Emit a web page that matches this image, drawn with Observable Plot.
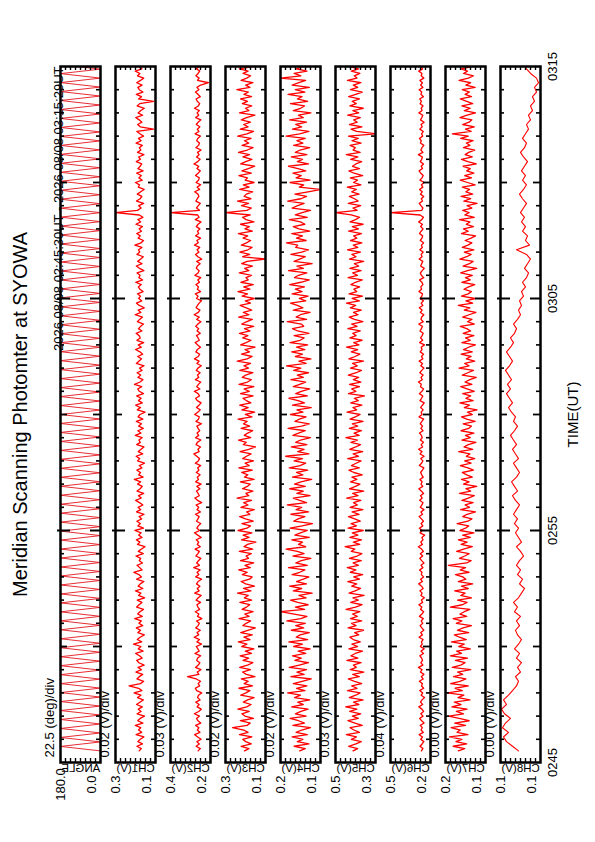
<!DOCTYPE html>
<html>
<head>
<meta charset="utf-8">
<script src="https://cdn.jsdelivr.net/npm/d3@7"></script>
<script src="https://cdn.jsdelivr.net/npm/@observablehq/plot@0.6"></script>
<style>
  html, body { margin: 0; padding: 0; background: #ffffff; }
  #page { position: relative; width: 595px; height: 842px; overflow: hidden; background: #ffffff; }
</style>
</head>
<body>
<div id="page"></div>
<script>
// ---------------- data ----------------
const titleText = "Meridian Scanning Photomter at SYOWA";
const subtitleText = "2026 08/08 02:45:30UT - 2026 08/08 03:15:29UT";
const axisTitle = "TIME(UT)";
const day = "2026-08-08T";
const sampleStart = "02:45:30";
// seconds between consecutive values of each series (ANGLE, CH1..CH8)
const stepSec = [11.6, 6, 6, 6, 6, 6, 6, 6, 12];

const channelNames = ["ANGLE", "CH1(V)", "CH2(V)", "CH3(V)", "CH4(V)", "CH5(V)", "CH6(V)", "CH7(V)", "CH8(V)"];
const domainMin = [0, 0.1, 0.2, 0.1, 0.1, 0.3, 0.2, 0.1, 0.08];
const domainMax = [180, 0.3, 0.4, 0.3, 0.2, 0.5, 0.5, 0.2, 0.12];
const highLabels = ["180.0", "0.3", "0.4", "0.3", "0.2", "0.5", "0.5", "0.2", "0.1"];
const lowLabels = ["0.0", "0.1", "0.2", "0.1", "0.1", "0.3", "0.2", "0.1", "0.1"];
const divLabels = ["22.5 (deg)/div", "0.02 (V)/div", "0.03 (V)/div", "0.02 (V)/div", "0.02 (V)/div",
                   "0.03 (V)/div", "0.04 (V)/div", "0.00 (V)/div", "0.00 (V)/div"];
const timeTickLabels = ["0245", "0255", "0305", "0315"];
const timeTickTimes = ["02:45", "02:55", "03:05", "03:15"];

// scan angle turning points (deg)
const angleDeg = [
  0,180,0,180,0,180,0,180,0,180,0,180,0,180,0,180,0,180,0,180,
  0,180,0,180,0,180,0,180,0,180,0,180,0,180,0,180,0,180,0,180,
  0,180,0,180,0,180,0,180,0,180,0,180,0,180,0,180,0,180,0,180,
  0,180,0,180,0,180,0,180,0,180,0,180,0,180,0,180,0,180,0,180,
  0,180,0,180,0,180,0,180,0,180,0,180,0,180,0,180,0,180,0,180,
  0,180,0,180,0,180,0,180,0,180,0,180,0,180,0,180,0,180,0,180,
  0,180,0,180,0,180,0,180,0,180,0,180,0,180,0,180,0,180,0,180,
  0,180,0,180,0,180,0,180,0,180,0,180,0,180,0
];

const ch1 = [
  0.182,0.171,0.193,0.165,0.188,0.176,0.158,0.197,0.169,0.185,0.174,0.201,0.163,0.189,0.177,0.155,0.192,0.172,0.186,0.166,
  0.195,0.178,0.161,0.190,0.173,0.207,0.168,0.184,0.232,0.175,0.159,0.193,0.181,0.164,0.198,0.170,0.187,0.157,0.183,0.194,
  0.167,0.180,0.199,0.162,0.186,0.173,0.210,0.169,0.191,0.177,0.156,0.188,0.175,0.196,0.164,0.183,0.171,0.204,0.166,0.189,
  0.178,0.160,0.194,0.182,0.168,0.191,0.154,0.185,0.173,0.200,0.163,0.187,0.176,0.158,0.195,0.170,0.183,0.209,0.167,0.179,
  0.192,0.165,0.181,0.174,0.198,0.161,0.186,0.170,0.153,0.190,0.178,0.196,0.167,0.184,0.172,0.203,0.160,0.188,0.176,0.193,
  0.169,0.182,0.157,0.195,0.174,0.187,0.163,0.180,0.199,0.171,0.185,0.159,0.192,0.177,0.166,0.189,0.174,0.206,0.162,0.184,
  0.175,0.193,0.168,0.181,0.155,0.190,0.179,0.197,0.164,0.186,0.172,0.158,0.194,0.176,0.183,0.167,0.201,0.173,0.188,0.161,
  0.184,0.170,0.196,0.163,0.187,0.178,0.152,0.191,0.175,0.199,0.166,0.185,0.172,0.194,0.160,0.181,0.189,0.169,0.205,0.177,
  0.163,0.188,0.174,0.192,0.167,0.180,0.157,0.196,0.183,0.170,0.189,0.164,0.178,0.200,0.171,0.186,0.159,0.193,0.176,0.182,
  0.197,0.168,0.185,0.174,0.160,0.191,0.179,0.165,0.202,0.173,0.187,0.156,0.181,0.195,0.169,0.184,0.175,0.190,0.162,0.178,
  0.186,0.171,0.199,0.164,0.183,0.177,0.192,0.158,0.180,0.196,0.167,0.189,0.174,0.161,0.193,0.179,0.185,0.168,0.203,0.172,
  0.160,0.187,0.176,0.194,0.170,0.182,0.165,0.198,0.174,0.188,0.163,0.181,0.300,0.190,0.172,0.184,0.159,0.195,0.177,0.168,
  0.191,0.174,0.157,0.186,0.180,0.200,0.166,0.183,0.171,0.194,0.162,0.188,0.177,0.169,0.196,0.175,0.184,0.158,0.190,0.173,
  0.181,0.166,0.197,0.172,0.185,0.160,0.178,0.193,0.110,0.176,0.189,0.168,0.182,0.199,0.164,0.187,0.173,0.156,0.192,0.179,
  0.110,0.185,0.170,0.196,0.163,0.181,0.188,0.167,0.194,0.175,0.159,0.190,0.178,0.201,0.168,0.184,0.172,0.193,0.176,0.186
];

const ch2 = [
  0.262,0.251,0.272,0.256,0.268,0.247,0.264,0.279,0.253,0.266,0.258,0.274,0.249,0.263,0.270,0.255,0.281,0.259,0.246,0.267,
  0.257,0.273,0.252,0.265,0.260,0.244,0.269,0.276,0.254,0.262,0.250,0.271,0.315,0.258,0.266,0.248,0.275,0.261,0.253,0.269,
  0.264,0.249,0.278,0.257,0.263,0.271,0.245,0.268,0.255,0.282,0.259,0.267,0.251,0.274,0.262,0.256,0.270,0.243,0.265,0.258,
  0.276,0.254,0.263,0.268,0.250,0.272,0.261,0.247,0.279,0.257,0.266,0.253,0.270,0.262,0.245,0.274,0.258,0.267,0.252,0.284,
  0.255,0.269,0.260,0.248,0.273,0.263,0.256,0.277,0.251,0.266,0.259,0.271,0.246,0.264,0.280,0.254,0.268,0.261,0.249,0.270,
  0.263,0.257,0.275,0.250,0.267,0.259,0.272,0.244,0.265,0.278,0.256,0.262,0.270,0.253,0.268,0.247,0.274,0.260,0.266,0.252,
  0.271,0.258,0.264,0.249,0.276,0.261,0.255,0.269,0.283,0.257,0.263,0.250,0.272,0.266,0.248,0.275,0.259,0.267,0.254,0.262,
  0.268,0.245,0.273,0.260,0.256,0.279,0.264,0.251,0.270,0.258,0.247,0.266,0.274,0.255,0.262,0.281,0.253,0.269,0.260,0.249,
  0.276,0.259,0.265,0.252,0.271,0.263,0.246,0.268,0.257,0.280,0.261,0.254,0.273,0.266,0.250,0.264,0.277,0.256,0.262,0.270,
  0.251,0.267,0.259,0.274,0.263,0.248,0.269,0.256,0.282,0.261,0.253,0.272,0.265,0.257,0.245,0.270,0.262,0.276,0.250,0.266,
  0.260,0.273,0.255,0.264,0.249,0.278,0.262,0.257,0.271,0.266,0.252,0.269,0.244,0.263,0.275,0.258,0.267,0.254,0.280,0.261,
  0.268,0.250,0.274,0.259,0.265,0.253,0.271,0.262,0.248,0.276,0.257,0.264,0.400,0.255,0.270,0.261,0.251,0.273,0.266,0.258,
  0.263,0.279,0.254,0.267,0.249,0.272,0.260,0.256,0.275,0.262,0.251,0.268,0.259,0.283,0.264,0.252,0.270,0.257,0.265,0.247,
  0.273,0.260,0.255,0.269,0.264,0.250,0.277,0.258,0.266,0.253,0.271,0.262,0.248,0.274,0.259,0.267,0.256,0.280,0.261,0.254,
  0.266,0.272,0.251,0.263,0.275,0.258,0.268,0.249,0.210,0.265,0.257,0.273,0.262,0.254,0.270,0.259,0.276,0.252,0.267,0.261
];

const ch3 = [
  0.205,0.183,0.222,0.171,0.199,0.214,0.168,0.230,0.187,0.209,0.265,0.192,0.176,0.226,0.160,0.203,0.218,0.181,0.238,0.194,
  0.172,0.211,0.189,0.157,0.224,0.198,0.178,0.233,0.165,0.207,0.186,0.221,0.153,0.196,0.215,0.175,0.229,0.190,0.163,0.212,
  0.184,0.227,0.170,0.201,0.158,0.219,0.193,0.236,0.177,0.208,0.166,0.224,0.188,0.151,0.213,0.197,0.174,0.232,0.182,0.204,
  0.162,0.217,0.195,0.179,0.228,0.169,0.206,0.186,0.240,0.173,0.210,0.155,0.199,0.222,0.180,0.167,0.216,0.191,0.234,0.176,
  0.203,0.159,0.225,0.185,0.197,0.171,0.231,0.164,0.208,0.190,0.148,0.220,0.182,0.212,0.168,0.237,0.193,0.175,0.218,0.161,
  0.200,0.229,0.178,0.194,0.156,0.223,0.187,0.209,0.170,0.242,0.183,0.198,0.163,0.215,0.191,0.176,0.226,0.157,0.205,0.188,
  0.219,0.166,0.233,0.181,0.202,0.160,0.214,0.195,0.172,0.227,0.184,0.150,0.211,0.196,0.235,0.174,0.206,0.189,0.164,0.222,
  0.179,0.210,0.192,0.237,0.168,0.201,0.154,0.218,0.186,0.229,0.173,0.196,0.213,0.162,0.225,0.181,0.207,0.158,0.232,0.190,
  0.171,0.216,0.199,0.163,0.228,0.185,0.208,0.175,0.241,0.192,0.167,0.220,0.180,0.203,0.152,0.224,0.197,0.172,0.214,0.188,
  0.230,0.177,0.205,0.159,0.219,0.193,0.166,0.234,0.182,0.211,0.169,0.196,0.227,0.175,0.201,0.156,0.217,0.190,0.238,0.178,
  0.209,0.161,0.223,0.186,0.198,0.170,0.231,0.183,0.204,0.165,0.219,0.192,0.100,0.214,0.179,0.228,0.188,0.167,0.221,0.195,
  0.174,0.212,0.189,0.236,0.166,0.203,0.181,0.225,0.158,0.197,0.215,0.176,0.300,0.193,0.170,0.220,0.185,0.240,0.173,0.207,
  0.196,0.164,0.229,0.182,0.211,0.157,0.202,0.190,0.233,0.171,0.218,0.186,0.154,0.224,0.199,0.168,0.213,0.180,0.235,0.191,
  0.162,0.217,0.184,0.205,0.172,0.239,0.193,0.160,0.226,0.187,0.209,0.175,0.221,0.195,0.153,0.230,0.183,0.200,0.169,0.216,
  0.190,0.225,0.170,0.208,0.185,0.243,0.178,0.199,0.163,0.222,0.194,0.174,0.212,0.187,0.231,0.167,0.204,0.181,0.219,0.196
];

const ch4 = [
  0.152,0.138,0.166,0.129,0.158,0.144,0.171,0.133,0.161,0.147,0.125,0.169,0.140,0.155,0.176,0.136,0.163,0.149,0.131,0.172,
  0.143,0.157,0.127,0.165,0.150,0.182,0.139,0.160,0.134,0.168,0.146,0.123,0.174,0.141,0.159,0.135,0.178,0.153,0.130,0.164,
  0.148,0.170,0.137,0.156,0.126,0.167,0.145,0.179,0.132,0.161,0.151,0.128,0.173,0.142,0.162,0.138,0.184,0.149,0.134,0.166,
  0.200,0.140,0.163,0.131,0.157,0.175,0.136,0.154,0.121,0.168,0.147,0.177,0.135,0.160,0.143,0.129,0.171,0.152,0.139,0.180,
  0.133,0.162,0.148,0.124,0.169,0.141,0.158,0.186,0.137,0.155,0.145,0.172,0.128,0.164,0.150,0.133,0.176,0.146,0.120,0.167,
  0.156,0.139,0.174,0.130,0.161,0.147,0.183,0.135,0.152,0.168,0.126,0.159,0.143,0.177,0.138,0.165,0.149,0.122,0.170,0.144,
  0.160,0.132,0.178,0.151,0.137,0.166,0.145,0.187,0.129,0.157,0.141,0.173,0.134,0.162,0.150,0.125,0.169,0.155,0.138,0.181,
  0.147,0.128,0.164,0.153,0.136,0.175,0.144,0.159,0.123,0.170,0.140,0.156,0.179,0.133,0.162,0.148,0.127,0.168,0.152,0.137,
  0.174,0.143,0.158,0.130,0.167,0.149,0.185,0.136,0.154,0.124,0.163,0.145,0.172,0.139,0.160,0.132,0.176,0.151,0.141,0.166,
  0.129,0.157,0.170,0.142,0.148,0.183,0.135,0.161,0.150,0.126,0.168,0.144,0.158,0.175,0.137,0.153,0.131,0.171,0.146,0.163,
  0.140,0.177,0.149,0.128,0.165,0.155,0.134,0.180,0.143,0.159,0.121,0.166,0.152,0.138,0.174,0.147,0.130,0.162,0.157,0.185,
  0.136,0.160,0.145,0.172,0.127,0.154,0.168,0.139,0.150,0.178,0.133,0.163,0.146,0.125,0.171,0.157,0.141,0.182,0.149,0.135,
  0.164,0.131,0.100,0.153,0.142,0.176,0.126,0.161,0.148,0.169,0.137,0.156,0.180,0.130,0.158,0.145,0.173,0.134,0.163,0.151,
  0.127,0.167,0.144,0.159,0.138,0.186,0.152,0.129,0.170,0.147,0.162,0.135,0.177,0.143,0.155,0.124,0.168,0.150,0.140,0.175,
  0.132,0.158,0.146,0.181,0.139,0.163,0.128,0.171,0.154,0.137,0.200,0.149,0.166,0.134,0.160,0.145,0.178,0.141,0.157,0.150
];

const ch5 = [
  0.412,0.389,0.434,0.398,0.371,0.421,0.395,0.446,0.380,0.408,0.427,0.366,0.403,0.438,0.386,0.416,0.374,0.429,0.393,0.449,
  0.383,0.410,0.362,0.431,0.399,0.377,0.440,0.392,0.419,0.369,0.405,0.436,0.381,0.414,0.358,0.426,0.396,0.411,0.372,0.443,
  0.388,0.423,0.401,0.365,0.433,0.390,0.418,0.376,0.411,0.428,0.384,0.404,0.360,0.437,0.397,0.420,0.369,0.425,0.391,0.415,
  0.378,0.447,0.400,0.367,0.424,0.386,0.413,0.357,0.432,0.402,0.375,0.419,0.394,0.439,0.380,0.409,0.364,0.426,0.398,0.441,
  0.385,0.412,0.371,0.430,0.392,0.368,0.421,0.403,0.452,0.379,0.411,0.370,0.428,0.388,0.416,0.361,0.437,0.395,0.422,0.376,
  0.404,0.435,0.382,0.417,0.363,0.427,0.390,0.410,0.373,0.444,0.387,0.414,0.359,0.430,0.400,0.378,0.425,0.393,0.418,0.366,
  0.408,0.433,0.381,0.420,0.397,0.372,0.439,0.385,0.412,0.364,0.429,0.399,0.375,0.423,0.390,0.448,0.382,0.407,0.370,0.431,
  0.389,0.416,0.362,0.427,0.401,0.377,0.442,0.394,0.413,0.368,0.424,0.386,0.406,0.355,0.435,0.398,0.419,0.380,0.430,0.373,
  0.411,0.384,0.436,0.396,0.370,0.425,0.391,0.415,0.360,0.433,0.402,0.378,0.421,0.389,0.445,0.383,0.409,0.367,0.428,0.397,
  0.414,0.376,0.438,0.392,0.420,0.363,0.405,0.431,0.387,0.410,0.371,0.426,0.399,0.445,0.381,0.417,0.365,0.432,0.394,0.408,
  0.379,0.423,0.401,0.366,0.437,0.390,0.414,0.372,0.428,0.384,0.406,0.359,0.430,0.397,0.418,0.375,0.440,0.388,0.411,0.368,
  0.425,0.393,0.409,0.370,0.434,0.385,0.416,0.362,0.427,0.400,0.379,0.421,0.500,0.392,0.413,0.374,0.436,0.387,0.405,0.431,
  0.382,0.419,0.396,0.441,0.373,0.410,0.390,0.426,0.364,0.407,0.433,0.380,0.415,0.398,0.369,0.424,0.388,0.446,0.377,0.412,
  0.401,0.427,0.372,0.418,0.386,0.435,0.300,0.395,0.422,0.368,0.430,0.391,0.409,0.376,0.439,0.384,0.413,0.361,0.428,0.396,
  0.417,0.380,0.434,0.399,0.366,0.425,0.389,0.411,0.373,0.440,0.393,0.406,0.378,0.421,0.385,0.430,0.370,0.415,0.401,0.423
];

const ch6 = [
  0.268,0.257,0.279,0.263,0.250,0.274,0.260,0.285,0.254,0.271,0.262,0.277,0.248,0.266,0.282,0.256,0.273,0.252,0.265,0.288,
  0.259,0.275,0.264,0.245,0.270,0.258,0.281,0.251,0.267,0.261,0.284,0.255,0.269,0.249,0.276,0.263,0.290,0.257,0.272,0.260,
  0.266,0.280,0.253,0.271,0.247,0.276,0.262,0.268,0.256,0.286,0.261,0.273,0.250,0.265,0.278,0.258,0.270,0.254,0.283,0.264,
  0.251,0.274,0.265,0.287,0.259,0.268,0.246,0.272,0.263,0.279,0.255,0.267,0.289,0.260,0.274,0.252,0.269,0.264,0.282,0.257,
  0.271,0.249,0.266,0.280,0.259,0.276,0.254,0.267,0.291,0.261,0.273,0.256,0.265,0.244,0.278,0.262,0.283,0.258,0.270,0.253,
  0.268,0.285,0.260,0.272,0.249,0.277,0.265,0.256,0.281,0.262,0.275,0.252,0.269,0.287,0.258,0.271,0.263,0.279,0.255,0.266,
  0.274,0.261,0.250,0.284,0.267,0.257,0.273,0.248,0.278,0.264,0.289,0.259,0.270,0.253,0.276,0.262,0.268,0.282,0.256,0.272,
  0.260,0.277,0.265,0.251,0.286,0.263,0.270,0.255,0.274,0.261,0.247,0.279,0.267,0.258,0.283,0.264,0.252,0.275,0.269,0.290,
  0.262,0.271,0.256,0.280,0.266,0.249,0.273,0.260,0.285,0.257,0.268,0.252,0.277,0.264,0.270,0.245,0.281,0.259,0.274,0.263,
  0.255,0.279,0.268,0.261,0.288,0.254,0.272,0.266,0.250,0.276,0.263,0.284,0.258,0.270,0.253,0.278,0.265,0.260,0.287,0.267,
  0.273,0.257,0.264,0.282,0.251,0.269,0.276,0.262,0.247,0.274,0.266,0.258,0.285,0.263,0.270,0.255,0.280,0.261,0.268,0.252,
  0.277,0.264,0.259,0.283,0.270,0.256,0.274,0.261,0.289,0.266,0.253,0.278,0.500,0.265,0.257,0.272,0.284,0.260,0.269,0.251,
  0.275,0.262,0.282,0.258,0.268,0.247,0.279,0.264,0.255,0.273,0.286,0.260,0.270,0.253,0.277,0.266,0.261,0.291,0.257,0.272,
  0.264,0.250,0.276,0.269,0.283,0.259,0.267,0.254,0.280,0.262,0.271,0.248,0.275,0.265,0.258,0.287,0.263,0.270,0.256,0.278,
  0.268,0.281,0.253,0.272,0.266,0.285,0.257,0.274,0.261,0.279,0.250,0.270,0.264,0.288,0.259,0.273,0.267,0.255,0.282,0.265
];

const ch7 = [
  0.168,0.152,0.181,0.147,0.174,0.159,0.190,0.144,0.171,0.163,0.186,0.150,0.177,0.141,0.166,0.192,0.155,0.173,0.146,0.184,
  0.161,0.178,0.139,0.169,0.154,0.195,0.158,0.176,0.143,0.187,0.164,0.149,0.180,0.157,0.170,0.137,0.183,0.162,0.151,0.175,
  0.145,0.188,0.160,0.172,0.138,0.167,0.153,0.185,0.148,0.165,0.178,0.142,0.170,0.156,0.135,0.173,0.159,0.181,0.147,0.164,
  0.153,0.139,0.188,0.158,0.146,0.170,0.135,0.162,0.151,0.177,0.143,0.160,0.132,0.168,0.149,0.157,0.175,0.141,0.163,0.150,
  0.193,0.147,0.136,0.165,0.152,0.141,0.172,0.155,0.133,0.161,0.146,0.168,0.138,0.157,0.129,0.164,0.150,0.142,0.171,0.144,
  0.134,0.157,0.146,0.125,0.162,0.140,0.151,0.131,0.159,0.143,0.128,0.165,0.137,0.149,0.122,0.155,0.141,0.160,0.133,0.147,
  0.158,0.130,0.144,0.163,0.136,0.152,0.127,0.148,0.139,0.167,0.132,0.154,0.143,0.124,0.159,0.138,0.150,0.129,0.161,0.142,
  0.135,0.156,0.126,0.147,0.160,0.133,0.145,0.121,0.153,0.140,0.164,0.131,0.149,0.137,0.157,0.128,0.146,0.162,0.134,0.151,
  0.139,0.123,0.158,0.144,0.130,0.166,0.141,0.152,0.127,0.148,0.136,0.161,0.133,0.155,0.142,0.125,0.159,0.138,0.150,0.129,
  0.156,0.137,0.147,0.163,0.128,0.145,0.134,0.157,0.141,0.124,0.153,0.139,0.168,0.132,0.149,0.126,0.160,0.143,0.135,0.154,
  0.142,0.127,0.159,0.138,0.150,0.133,0.162,0.145,0.122,0.156,0.140,0.131,0.164,0.147,0.136,0.153,0.129,0.158,0.144,0.134,
  0.151,0.136,0.125,0.160,0.143,0.155,0.130,0.148,0.139,0.165,0.128,0.152,0.141,0.157,0.134,0.146,0.121,0.154,0.137,0.161,
  0.132,0.149,0.140,0.158,0.126,0.145,0.163,0.135,0.152,0.129,0.147,0.138,0.156,0.123,0.144,0.160,0.133,0.151,0.142,0.127,
  0.155,0.139,0.148,0.131,0.162,0.143,0.183,0.136,0.150,0.128,0.157,0.141,0.134,0.164,0.146,0.125,0.153,0.138,0.159,0.132,
  0.147,0.163,0.135,0.151,0.140,0.158,0.126,0.149,0.137,0.166,0.143,0.130,0.155,0.145,0.161,0.133,0.152,0.139,0.157,0.144
];

const ch8 = [
  0.102,0.108,0.114,0.117,0.112,0.118,0.115,0.110,0.116,0.119,
  0.114,0.117,0.112,0.108,0.104,0.102,0.105,0.100,0.103,0.099,
  0.104,0.101,0.106,0.102,0.099,0.103,0.105,0.101,0.104,0.100,
  0.106,0.103,0.107,0.102,0.099,0.096,0.101,0.098,0.103,0.100,
  0.104,0.101,0.097,0.100,0.104,0.099,0.102,0.105,0.102,0.106,
  0.103,0.107,0.104,0.101,0.105,0.108,0.103,0.106,0.109,0.104,
  0.101,0.104,0.107,0.102,0.105,0.108,0.104,0.107,0.110,0.106,
  0.103,0.107,0.105,0.109,0.112,0.108,0.111,0.114,0.110,0.113,
  0.109,0.112,0.115,0.111,0.108,0.111,0.114,0.110,0.107,0.110,
  0.106,0.104,0.107,0.103,0.100,0.102,0.099,0.101,0.097,0.099,
  0.095,0.098,0.094,0.092,0.096,0.093,0.090,0.094,0.104,0.091,
  0.095,0.093,0.098,0.095,0.099,0.096,0.100,0.097,0.094,0.098,
  0.101,0.097,0.094,0.098,0.095,0.099,0.096,0.093,0.097,0.100,
  0.096,0.094,0.098,0.095,0.092,0.094,0.090,0.092,0.088,0.090,
  0.086,0.088,0.084,0.086,0.082,0.084,0.090,0.094,0.097,0.100
];

const series = [angleDeg, ch1, ch2, ch3, ch4, ch5, ch6, ch7, ch8];

// ---------------- layout ----------------
const W = 40, H = 696, M = 10;
const firstLeft = 60, panelStep = 55, plotTop = 66;
const font = "'Liberation Sans', Arial, Helvetica, sans-serif";
const page = document.getElementById("page");

const t0 = new Date(day + timeTickTimes[0] + ":00Z");
const t1 = new Date(day + timeTickTimes[timeTickTimes.length - 1] + ":00Z");
const inner = d3.utcMinute.range(t0, t1).slice(1);
const minuteTicks = inner.filter(d => d.getUTCMinutes() % 5 !== 0);
const fiveTicks = inner.filter(d => d.getUTCMinutes() % 10 === 0);
const tenTicks = inner.filter(d => d.getUTCMinutes() % 10 === 5);
const labelTimes = timeTickTimes.map(s => new Date(day + s + ":00Z"));
const startMs = new Date(day + sampleStart + "Z").getTime();

series.forEach((vals, k) => {
  const stepMs = stepSec[k] * 1000;
  const data = vals.map((v, i) => ({t: new Date(startMs + i * stepMs), v}));
  const lo = domainMin[k], hi = domainMax[k];
  const valueTicks = d3.range(1, 8).map(j => lo + (hi - lo) * j / 8);
  const txt = {text: d => d, fontFamily: font, fill: "black"};

  const marks = [
    Plot.line(data, {x: "v", y: "t", stroke: k === 0 ? "#e3161e" : "#ff0000",
                     strokeWidth: k === 0 ? 0.9 : (k === 8 ? 1.1 : 1.3), clip: true}),
    Plot.tickY(minuteTicks, {insetRight: W - 4, strokeWidth: 1.6}),
    Plot.tickY(minuteTicks, {insetLeft: W - 4, strokeWidth: 1.6}),
    Plot.tickY(fiveTicks, {insetRight: W - 7, strokeWidth: 1.8}),
    Plot.tickY(fiveTicks, {insetLeft: W - 7, strokeWidth: 1.8}),
    Plot.tickY(tenTicks, {insetLeft: -3, insetRight: W - 10, strokeWidth: 2}),
    Plot.tickY(tenTicks, {insetLeft: W - 10, strokeWidth: 2}),
    Plot.tickX(valueTicks, {insetBottom: H - 4, strokeWidth: 1.4}),
    Plot.tickX(valueTicks, {insetTop: H - 4, strokeWidth: 1.4}),
    Plot.frame({stroke: "black", strokeWidth: 2.5}),
    Plot.text([divLabels[k]], {...txt, frameAnchor: "bottom-left", dx: -7, dy: -5, rotate: -90,
                               textAnchor: "start", fontSize: 13}),
    Plot.text([highLabels[k]], {...txt, frameAnchor: "bottom-left", dx: 4.5, dy: 22, rotate: -90,
                                textAnchor: "middle", fontSize: 13}),
    Plot.text([lowLabels[k]], {...txt, frameAnchor: "bottom-right", dx: -4.5, dy: 22, rotate: -90,
                               textAnchor: "middle", fontSize: 13}),
    Plot.text([channelNames[k]], {...txt, frameAnchor: "bottom", dy: 9, fontSize: 11.5, textAnchor: "middle"})
  ];
  if (k === 0) {
    marks.push(Plot.text([titleText], {...txt, frameAnchor: "left", dx: -40, rotate: -90,
                                       textAnchor: "middle", fontSize: 20}));
    marks.push(Plot.text([subtitleText], {...txt, frameAnchor: "top-left", dx: -7, dy: 0, rotate: -90,
                                          textAnchor: "end", fontSize: 13}));
  }
  if (k === series.length - 1) {
    marks.push(Plot.text(labelTimes, {y: d => d, text: (d, i) => timeTickLabels[i], frameAnchor: "right",
                                      dx: 12, rotate: -90, textAnchor: "middle", fontSize: 13,
                                      fontFamily: font, fill: "black"}));
    marks.push(Plot.text([axisTitle], {...txt, frameAnchor: "right", dx: 33, rotate: -90,
                                       textAnchor: "middle", fontSize: 15}));
  }

  const svg = Plot.plot({
    width: W + 2 * M, height: H + 2 * M,
    marginLeft: M, marginRight: M, marginTop: M, marginBottom: M,
    x: {domain: [lo, hi], reverse: true, axis: null},
    y: {type: "utc", domain: [t0, t1], axis: null},
    style: `position:absolute;left:${firstLeft + k * panelStep - M}px;top:${plotTop - M}px;` +
           `overflow:visible;background:transparent;max-width:none;font-family:${font};`,
    marks
  });
  page.appendChild(svg);

  // channel name is printed mirrored in the reference
  svg.querySelectorAll("text").forEach(t => {
    if (t.textContent === channelNames[k]) {
      const b = t.getBBox();
      const c = b.x + b.width / 2;
      t.setAttribute("transform", (t.getAttribute("transform") || "") + ` translate(${2 * c},0) scale(-1,1)`);
    }
  });
});
</script>
</body>
</html>
